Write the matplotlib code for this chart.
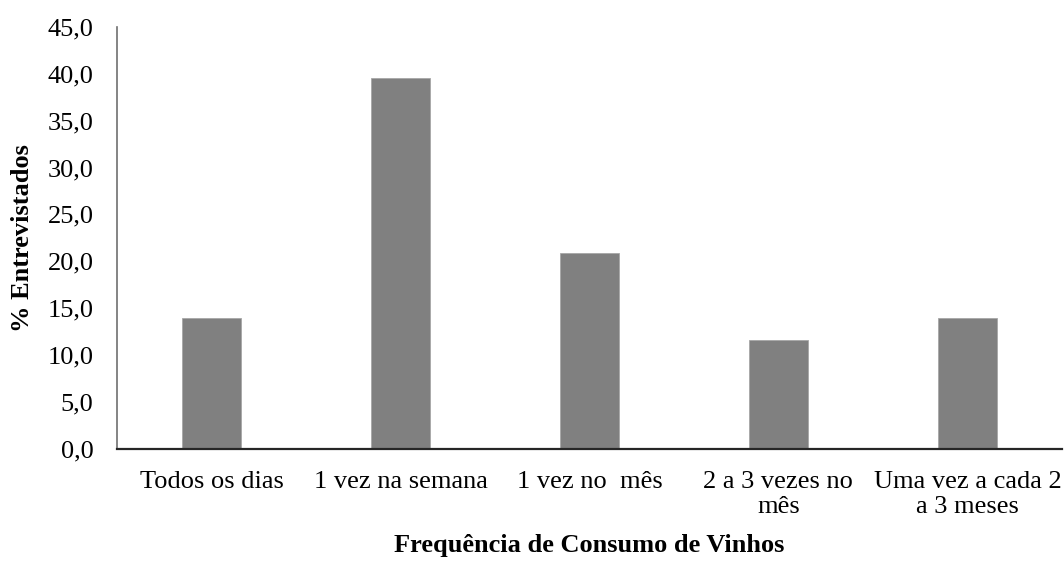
import matplotlib
matplotlib.use("Agg")
import matplotlib.pyplot as plt
from matplotlib.ticker import FuncFormatter

categories = [
    "Todos os dias",
    "1 vez na semana",
    "1 vez no  mês",
    "2 a 3 vezes no\nmês",
    "Uma vez a cada 2\na 3 meses",
]
values = [14.0, 39.5, 20.9, 11.6, 14.0]
y_ticks = [0, 5, 10, 15, 20, 25, 30, 35, 40, 45]

plt.rcParams["font.family"] = ["Liberation Serif", "DejaVu Serif"]

fig = plt.figure(figsize=(10.64, 5.61), dpi=100)
ax = fig.add_axes([0.110, 0.200, 0.888, 0.752])

x = range(len(categories))
ax.bar(x, values, width=0.31, color="#808080", edgecolor="#a6a6a6", linewidth=0.6, zorder=2)

ax.set_xlim(-0.5, len(categories) - 0.5)
ax.set_ylim(0, 45)
ax.set_yticks(y_ticks)
ax.yaxis.set_major_formatter(FuncFormatter(lambda v, p: f"{v:.1f}".replace(".", ",")))
ax.set_xticks(list(x))
ax.set_xticklabels(categories, ha="center", multialignment="center", linespacing=1.2)

ax.tick_params(axis="both", length=0, labelsize=19, colors="black")
ax.tick_params(axis="x", pad=16)
ax.tick_params(axis="y", pad=17)

ax.spines["top"].set_visible(False)
ax.spines["right"].set_visible(False)
ax.spines["left"].set_color("#707070")
ax.spines["left"].set_linewidth(1.2)
ax.spines["bottom"].set_color("#262626")
ax.spines["bottom"].set_linewidth(1.6)

ax.set_xlabel("Frequência de Consumo de Vinhos", fontsize=19, fontweight="bold", labelpad=11)
ax.set_ylabel("% Entrevistados", fontsize=19, fontweight="bold", labelpad=10)

fig.savefig("out.png", dpi=100)
